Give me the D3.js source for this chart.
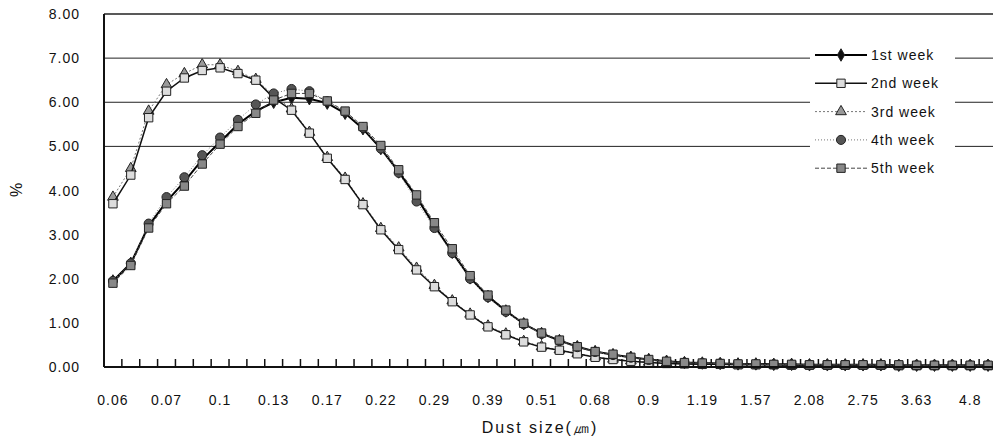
<!DOCTYPE html>
<html>
<head>
<meta charset="utf-8">
<script src="https://cdn.jsdelivr.net/npm/d3@7"></script>
<style>
  body { margin: 0; background: #fff; overflow: hidden; }
  text { font-family: "Liberation Sans", Arial, sans-serif; fill: #111; }
</style>
</head>
<body>
<div id="chart"></div>
<script>
// dust size bins (um)
var sizes = [0.06,0.063,0.067,0.07,0.079,0.089,0.1,0.11,0.12,0.13,0.14,0.155,0.17,0.185,0.2,0.22,0.24,0.265,
  0.29,0.32,0.355,0.39,0.43,0.47,0.51,0.56,0.62,0.68,0.75,0.82,0.9,0.99,1.09,1.19,1.31,1.44,1.57,1.73,1.9,2.08,
  2.29,2.52,2.75,3.03,3.33,3.63,4.0,4.4,4.8,5.3];
var shownLabels = ["0.06","0.07","0.1","0.13","0.17","0.22","0.29","0.39","0.51","0.68","0.9","1.19","1.57","2.08","2.75","3.63","4.8"];
var yTicks = [0,1,2,3,4,5,6,7,8];
var gridValues = [5,6,7];

var week1 = [1.95,2.35,3.2,3.75,4.2,4.7,5.1,5.5,5.8,6.0,6.1,6.08,5.98,5.75,5.4,4.95,4.42,3.85,3.2,2.6,2.02,1.6,1.27,0.98,0.76,0.6,0.46,0.35,0.28,0.22,0.17,0.13,0.1,0.09,0.08,0.07,0.07,0.06,0.06,0.05,0.05,0.05,0.05,0.05,0.04,0.04,0.04,0.04,0.04,0.04];
var week2 = [3.7,4.35,5.65,6.25,6.55,6.72,6.78,6.65,6.5,6.1,5.82,5.3,4.73,4.25,3.68,3.11,2.66,2.2,1.82,1.48,1.18,0.91,0.73,0.57,0.45,0.38,0.3,0.22,0.17,0.13,0.1,0.08,0.07,0.06,0.06,0.05,0.05,0.05,0.04,0.04,0.04,0.04,0.04,0.04,0.03,0.03,0.03,0.03,0.03,0.03];
var week3 = [3.85,4.5,5.8,6.4,6.65,6.85,6.85,6.7,6.52,6.15,5.85,5.32,4.75,4.28,3.7,3.14,2.7,2.24,1.85,1.5,1.2,0.93,0.75,0.58,0.46,0.39,0.31,0.23,0.18,0.14,0.11,0.09,0.07,0.06,0.06,0.05,0.05,0.05,0.04,0.04,0.04,0.04,0.04,0.04,0.03,0.03,0.03,0.03,0.03,0.03];
var week4 = [1.95,2.35,3.25,3.85,4.3,4.8,5.2,5.6,5.95,6.2,6.3,6.25,6.02,5.78,5.42,4.95,4.4,3.75,3.15,2.58,2.0,1.58,1.25,0.97,0.75,0.59,0.45,0.34,0.27,0.21,0.16,0.12,0.1,0.09,0.08,0.07,0.06,0.06,0.05,0.05,0.05,0.05,0.05,0.04,0.04,0.04,0.04,0.04,0.04,0.04];
var week5 = [1.9,2.3,3.15,3.7,4.1,4.6,5.05,5.45,5.75,6.05,6.2,6.2,6.03,5.8,5.45,5.02,4.47,3.9,3.27,2.68,2.07,1.63,1.29,0.99,0.77,0.61,0.46,0.35,0.29,0.22,0.17,0.13,0.1,0.09,0.08,0.07,0.07,0.06,0.06,0.05,0.05,0.05,0.05,0.05,0.05,0.04,0.04,0.04,0.04,0.04];
var seriesNames = ["1st week","2nd week","3rd week","4th week","5th week"];

var W = 993, H = 438;
var plotLeft = 104, plotRight = 997, plotTop = 14, plotBottom = 367;

var svg = d3.select("#chart").append("svg").attr("width", W).attr("height", H);

var x = d3.scaleBand().domain(sizes.map(String)).range([plotLeft, plotRight]);
var y = d3.scaleLinear().domain([0, 8]).range([plotBottom, plotTop]);
var cx = function(i) { return x(String(sizes[i])) + x.bandwidth() / 2; };

// gridlines
svg.selectAll("line.grid").data(gridValues).enter().append("line")
  .attr("x1", plotLeft).attr("x2", W)
  .attr("y1", d => y(d)).attr("y2", d => y(d))
  .attr("stroke", "#222").attr("stroke-width", 1);
// top border
svg.append("line").attr("x1", plotLeft).attr("x2", W).attr("y1", y(8)).attr("y2", y(8))
  .attr("stroke", "#222").attr("stroke-width", 1.5);

// y axis labels
svg.selectAll("text.yt").data(yTicks).enter().append("text")
  .attr("x", 80).attr("y", d => y(d) + 5).attr("text-anchor", "end")
  .style("font-size", "14px").style("letter-spacing", "1px")
  .text(d => d.toFixed(2));
svg.append("text").attr("transform", "translate(22,190) rotate(-90)")
  .attr("text-anchor", "middle").style("font-size", "16px").text("%");

// x ticks between bands
svg.selectAll("line.xt").data(sizes.slice(1)).enter().append("line")
  .attr("x1", d => x(String(d))).attr("x2", d => x(String(d)))
  .attr("y1", plotBottom - 8).attr("y2", plotBottom).attr("stroke", "#111").attr("stroke-width", 1.5);
svg.selectAll("text.xl").data(shownLabels).enter().append("text")
  .attr("x", (d, i) => cx(i * 3)).attr("y", 405).attr("text-anchor", "middle")
  .style("font-size", "14px").style("letter-spacing", "1px").text(d => d);
svg.append("text").attr("x", 540).attr("y", 433).attr("text-anchor", "middle")
  .style("font-size", "16px").style("letter-spacing", "2px").text("Dust size(㎛)");

var styles = [
  { data: week1, stroke: "#000", width: 2, dash: null, shape: d3.symbolDiamond, fill: "#111", size: 45 },
  { data: week3, stroke: "#777", width: 1, dash: "2,2", shape: d3.symbolTriangle, fill: "#999", size: 50 },
  { data: week2, stroke: "#111", width: 1.5, dash: null, shape: d3.symbolSquare, fill: "#ddd", size: 70 },
  { data: week4, stroke: "#777", width: 1, dash: "1,2", shape: d3.symbolCircle, fill: "#555", size: 65 },
  { data: week5, stroke: "#444", width: 1, dash: "4,2", shape: d3.symbolSquare, fill: "#888", size: 70 }
];
var legendOrder = [0, 2, 1, 3, 4];

var line = d3.line().x((d, i) => cx(i)).y(d => y(d));

styles.forEach(function(s) {
  svg.append("path").datum(s.data).attr("d", line)
    .attr("fill", "none").attr("stroke", s.stroke).attr("stroke-width", s.width)
    .attr("stroke-dasharray", s.dash);
  svg.selectAll(null).data(s.data).enter().append("path")
    .attr("d", d3.symbol().type(s.shape).size(s.size))
    .attr("transform", (d, i) => `translate(${cx(i)},${y(d)})`)
    .attr("fill", s.fill).attr("stroke", "#222").attr("stroke-width", 1);
});

// axes lines
svg.append("line").attr("x1", plotLeft).attr("x2", plotLeft).attr("y1", plotTop).attr("y2", plotBottom)
  .attr("stroke", "#111").attr("stroke-width", 2);
svg.append("line").attr("x1", plotLeft).attr("x2", W).attr("y1", plotBottom).attr("y2", plotBottom)
  .attr("stroke", "#111").attr("stroke-width", 2);

// legend
svg.append("rect").attr("x", 810).attr("y", 40).attr("width", 145).attr("height", 142).attr("fill", "#fff");
var lg = svg.selectAll("g.lg").data(legendOrder.map(i => styles[i])).enter().append("g")
  .attr("transform", (d, i) => `translate(815,${55 + i * 28.3})`);
lg.append("line").attr("x1", 0).attr("x2", 52).attr("stroke", d => d.stroke)
  .attr("stroke-width", d => d.width).attr("stroke-dasharray", d => d.dash);
lg.append("path").attr("d", d => d3.symbol().type(d.shape).size(d.size)())
  .attr("transform", "translate(26,0)").attr("fill", d => d.fill).attr("stroke", "#222");
lg.append("text").attr("x", 56).attr("y", 5).style("font-size", "14px").style("letter-spacing", "1px")
  .text((d, i) => seriesNames[i]);
</script>
</body>
</html>
